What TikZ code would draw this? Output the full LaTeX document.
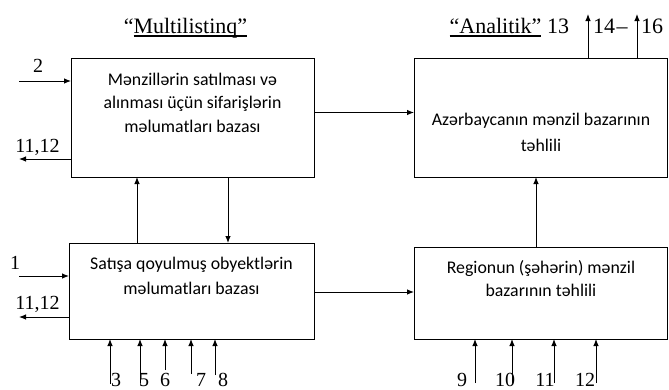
\documentclass[tikz,border=0pt]{standalone}
\usepackage{fontspec}
\setmainfont{Liberation Serif}
\newfontfamily\carl{Carlito}
\usetikzlibrary{arrows.meta}
\newcommand\myul[1]{\setbox0\hbox{#1}\rlap{\rule[-3.5pt]{\wd0}{1.2pt}}\box0}
\begin{document}
\begin{tikzpicture}[x=1pt,y=-1pt,
  box/.style={draw, line width=0.9pt, inner sep=0pt, outer sep=0pt},
  btext/.style={font=\carl\fontsize{17.8}{23.5}\selectfont, align=center, inner sep=0pt},
  num/.style={font=\fontsize{20}{24}\selectfont, inner sep=0pt, anchor=base},
  ttl/.style={font=\fontsize{22}{26}\selectfont, inner sep=0pt, anchor=base},
  arr/.style={line width=0.9pt, -{Latex[length=7pt,width=5.5pt]}}]
\useasboundingbox (0,0) rectangle (669,389);
% boxes
\node[box, minimum width=243pt, minimum height=119pt] (A) at (192.5,117.5) {};
\node[box, minimum width=253pt, minimum height=119pt] (B) at (540.5,117.5) {};
\node[box, minimum width=245pt, minimum height=96pt] (C) at (191.5,291) {};
\node[box, minimum width=253pt, minimum height=92pt] (D) at (540.5,293) {};
% box texts
\node[btext] (tA) at (192.5,102.5) {Mənzillərin satılması və\\alınması üçün sifarişlərin\\məlumatları bazası};
\node[btext, font=\carl\fontsize{17.8}{26.5}\selectfont] (tB) at (541,132.5) {Azərbaycanın mənzil bazarının\\təhlili};
\node[btext, font=\carl\fontsize{17.8}{25}\selectfont] (tC) at (191.5,276.3) {Satışa qoyulmuş obyektlərin\\məlumatları bazası};
\node[btext] (tD) at (541,278.5) {Regionun (şəhərin) mənzil\\bazarının təhlili};
% titles
\node[ttl] (t1) at (185.5,33) {“\myul{Multilistinq”}};
\node[ttl] (t2) at (495.5,33) {\myul{“Analitik”}};
\node[ttl] (n13) at (558,33) {13};
\node[ttl] (n14) at (604,33) {14};
\node[ttl] (ndash) at (622,33) {–};
\node[ttl] (n16) at (652,33) {16};
% side labels
\node[num] (l2) at (38,72) {2};
\node[num] (l1112a) at (37.5,152) {11,12};
\node[num] (l1) at (15,269) {1};
\node[num] (l1112b) at (37.5,309) {11,12};
% bottom labels
\node[num] (b3) at (116,386.5) {3};
\node[num] (b5) at (144,386.5) {5};
\node[num] (b6) at (165,386.5) {6};
\node[num] (b7) at (201,386.5) {7};
\node[num] (b8) at (223,386.5) {8};
\node[num] (b9) at (462,386.5) {9};
\node[num] (b10) at (505,386.5) {10};
\node[num] (b11) at (545,386.5) {11};
\node[num] (b12) at (585,386.5) {12};
% free ends
\coordinate (i2) at (19,81);
\coordinate (oA) at (19,159);
\coordinate (i1) at (19,276);
\coordinate (oC) at (19,317);
\coordinate (xu) at (137,0);
\coordinate (xd) at (228,0);
\coordinate (xb) at (536,0);
\coordinate (yc) at (0,292);
\coordinate (o13) at (588,14);
\coordinate (o16) at (637,14);
\coordinate (c3) at (110,384);
\coordinate (c5) at (140,383);
\coordinate (c6) at (165,370);
\coordinate (c7) at (191,374);
\coordinate (c8) at (215,375);
\coordinate (d9) at (475,383);
\coordinate (d10) at (512,383);
\coordinate (d11) at (554,383);
\coordinate (d12) at (596,383);
% connectors
\draw[arr] (i2) -- (i2 -| A.west);
\draw[arr] (oA -| A.west) -- (oA);
\draw[arr] ([yshift=5pt]A.east) -- ([yshift=5pt]B.west);
\draw[arr] (xu |- C.north) -- (xu |- A.south);
\draw[arr] (xd |- A.south) -- (xd |- C.north);
\draw[arr] (i1) -- (i1 -| C.west);
\draw[arr] (oC -| C.west) -- (oC);
\draw[arr] (yc -| C.east) -- (yc -| D.west);
\draw[arr] (xb |- D.north) -- (xb |- B.south);
\draw[arr] (o13 |- B.north) -- (o13);
\draw[arr] (o16 |- B.north) -- (o16);
\foreach \c in {c3,c5,c6,c7,c8} \draw[arr] (\c) -- (\c |- C.south);
\foreach \c in {d9,d10,d11,d12} \draw[arr] (\c) -- (\c |- D.south);
\end{tikzpicture}
\end{document}
